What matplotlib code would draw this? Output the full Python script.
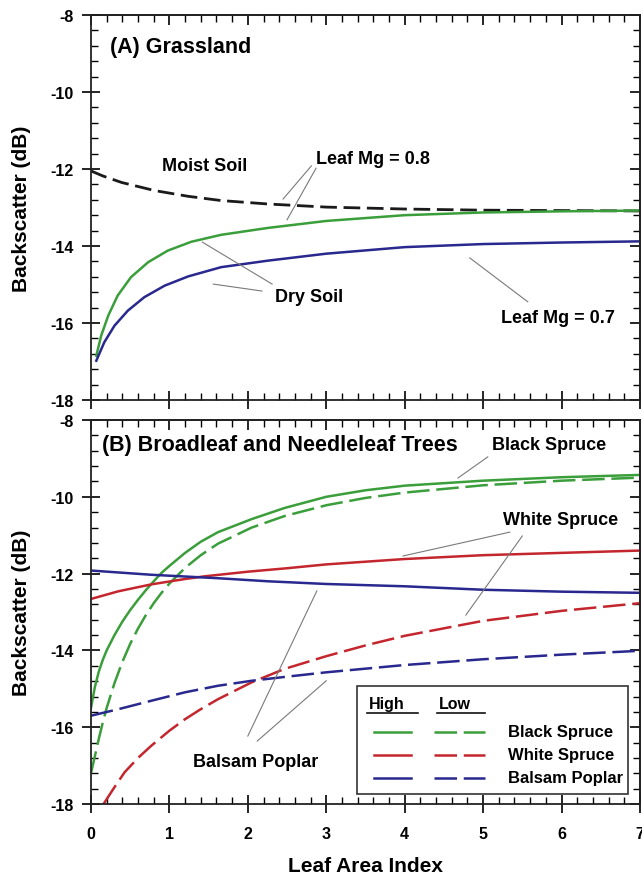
import matplotlib.pyplot as plt
from matplotlib.ticker import MultipleLocator
from matplotlib.patches import Rectangle

plt.rcParams['font.family'] = ['Liberation Sans', 'DejaVu Sans']
plt.rcParams['font.weight'] = 'bold'
plt.rcParams['axes.labelweight'] = 'bold'
plt.rcParams['axes.unicode_minus'] = False

GREEN = '#3a9e3a'
RED = '#c4262e'
NAVY = '#28288e'
GREY = '#7a7a7a'

# ---- (A) Grassland ----
moist_lai = [0, 0.15, 0.39, 0.81, 1.24, 1.66, 2.26, 3, 4, 5, 6, 7]
moist_db = [-12.05, -12.18, -12.35, -12.56, -12.71, -12.82, -12.91, -12.99,
            -13.04, -13.07, -13.08, -13.09]

mg08_lai = [0.068, 0.13, 0.22, 0.34, 0.51, 0.73, 0.98, 1.28, 1.66, 2.26, 3, 4, 5, 6, 7]
mg08_db = [-16.85, -16.33, -15.81, -15.29, -14.81, -14.42, -14.12, -13.89,
           -13.71, -13.53, -13.35, -13.2, -13.13, -13.1, -13.08]

mg07_lai = [0.068, 0.17, 0.30, 0.47, 0.68, 0.94, 1.24, 1.66, 2.26, 3, 4, 5, 6, 7]
mg07_db = [-16.98, -16.5, -16.07, -15.68, -15.33, -15.03, -14.79, -14.55,
           -14.38, -14.2, -14.03, -13.95, -13.91, -13.88]

# ---- (B) Broadleaf and needleleaf trees ----
bs_high_lai = [0, 0.05, 0.1, 0.15, 0.2, 0.3, 0.4, 0.5, 0.6, 0.7, 0.8, 0.9, 1.0,
               1.2, 1.4, 1.62, 2.05, 2.47, 3, 3.5, 4, 5, 6, 7]
bs_high_db = [-15.5, -14.95, -14.55, -14.25, -14.0, -13.6, -13.25, -12.95,
              -12.68, -12.43, -12.2, -11.98, -11.8, -11.46, -11.17, -10.92,
              -10.58, -10.29, -10.0, -9.83, -9.71, -9.58, -9.49, -9.43]

bs_low_lai = [0, 0.05, 0.1, 0.15, 0.2, 0.3, 0.4, 0.5, 0.6, 0.7, 0.8, 0.9, 1.0,
              1.2, 1.4, 1.62, 2.05, 2.47, 3, 3.5, 4, 5, 6, 7]
bs_low_db = [-17.2, -16.75, -16.3, -15.88, -15.5, -14.85, -14.3, -13.83,
             -13.43, -13.08, -12.77, -12.5, -12.26, -11.85, -11.52, -11.22,
             -10.8, -10.5, -10.22, -10.03, -9.89, -9.7, -9.58, -9.5]

ws_high_lai = [0, 0.35, 0.77, 1.2, 1.45, 2.0, 2.5, 3, 4, 5, 6, 7]
ws_high_db = [-12.66, -12.46, -12.28, -12.14, -12.07, -11.95, -11.86, -11.76,
              -11.62, -11.52, -11.46, -11.4]

ws_low_lai = [0.16, 0.3, 0.43, 0.6, 0.77, 1.0, 1.2, 1.4, 1.62, 2.05, 2.47, 3,
              3.5, 4, 5, 6, 7]
ws_low_db = [-18.0, -17.56, -17.17, -16.8, -16.48, -16.09, -15.79, -15.53,
             -15.27, -14.83, -14.48, -14.15, -13.87, -13.62, -13.23, -12.97, -12.77]

bp_high_lai = [0, 0.77, 1.62, 2.26, 3, 4, 5, 6, 7]
bp_high_db = [-11.92, -12.03, -12.12, -12.2, -12.27, -12.33, -12.42, -12.47, -12.5]

bp_low_lai = [0, 0.35, 0.77, 1.2, 1.62, 2.05, 2.47, 3, 4, 5, 6, 7]
bp_low_db = [-15.7, -15.53, -15.31, -15.09, -14.92, -14.79, -14.69, -14.57,
             -14.38, -14.23, -14.11, -14.01]

species = ['Black Spruce', 'White Spruce', 'Balsam Poplar']
species_colors = [GREEN, RED, NAVY]

LW = 1.8
DASH = (9, 2.7)


def style_axis(ax):
    ax.set_xlim(0, 7)
    ax.set_ylim(-18, -8)
    ax.xaxis.set_major_locator(MultipleLocator(1))
    ax.xaxis.set_minor_locator(MultipleLocator(0.2))
    ax.yaxis.set_major_locator(MultipleLocator(2))
    ax.yaxis.set_minor_locator(MultipleLocator(0.4))
    ax.tick_params(which='major', direction='inout', length=13, width=1.2,
                   labelsize=11.5, top=False, right=False)
    ax.tick_params(which='minor', direction='in', length=5, width=1,
                   top=False, right=False)
    ax.tick_params(axis='y', pad=6)
    ax.tick_params(axis='x', pad=9)
    for lbl in ax.get_xticklabels() + ax.get_yticklabels():
        lbl.set_fontweight('bold')
    for s in ax.spines.values():
        s.set_linewidth(1.3)
        s.set_color('#222222')

    # inward-only ticks along the top and right edges
    top = ax.secondary_xaxis('top')
    top.xaxis.set_major_locator(MultipleLocator(1))
    top.xaxis.set_minor_locator(MultipleLocator(0.2))
    top.tick_params(which='major', direction='in', length=7, width=1.2, labeltop=False)
    top.tick_params(which='minor', direction='in', length=5, width=1)
    right = ax.secondary_yaxis('right')
    right.yaxis.set_major_locator(MultipleLocator(2))
    right.yaxis.set_minor_locator(MultipleLocator(0.4))
    right.tick_params(which='major', direction='in', length=7, width=1.2, labelright=False)
    right.tick_params(which='minor', direction='in', length=5, width=1)
    for sec in (top, right):
        for s in sec.spines.values():
            s.set_linewidth(1.3)
            s.set_color('#222222')

    ax.set_ylabel('Backscatter (dB)', fontsize=15)
    ax.yaxis.set_label_coords(-0.126, 0.5)
    ax.yaxis.label.set_va('center')


def leader(ax, lines):
    for (x0, y0), (x1, y1) in lines:
        ax.plot([x0, x1], [y0, y1], color=GREY, lw=0.8)


fig = plt.figure(figsize=(6.42, 8.78), dpi=100)
ax_a = fig.add_axes([0.1417, 0.5433, 0.8551, 0.4385])
ax_b = fig.add_axes([0.1417, 0.0831, 0.8551, 0.4374])

# panel A
ax_a.plot(moist_lai, moist_db, color='#1a1a1a', lw=2.0, dashes=(6, 2.4))
ax_a.plot(mg08_lai, mg08_db, color=GREEN, lw=LW)
ax_a.plot(mg07_lai, mg07_db, color=NAVY, lw=LW)
style_axis(ax_a)
ax_a.tick_params(axis='x', labelbottom=False)

ax_a.text(0.24, -8.83, '(A) Grassland', fontsize=15.5, va='center')
ax_a.text(1.45, -11.9, 'Moist Soil', fontsize=13, ha='center', va='center')
ax_a.text(2.87, -11.74, 'Leaf Mg = 0.8', fontsize=13, va='center')
ax_a.text(2.78, -15.32, 'Dry Soil', fontsize=13, ha='center', va='center')
ax_a.text(5.95, -15.87, 'Leaf Mg = 0.7', fontsize=13, ha='center', va='center')
leader(ax_a, [((2.81, -11.92), (2.45, -12.78)),
              ((2.87, -11.98), (2.50, -13.32)),
              ((2.31, -14.99), (1.42, -13.9)),
              ((2.18, -15.17), (1.56, -14.99)),
              ((5.57, -15.45), (4.83, -14.31))])

# panel B
ax_b.plot(bs_high_lai, bs_high_db, color=GREEN, lw=LW)
ax_b.plot(bs_low_lai, bs_low_db, color=GREEN, lw=LW, dashes=DASH)
ax_b.plot(ws_high_lai, ws_high_db, color=RED, lw=LW)
ax_b.plot(ws_low_lai, ws_low_db, color=RED, lw=LW, dashes=DASH)
ax_b.plot(bp_high_lai, bp_high_db, color=NAVY, lw=LW)
ax_b.plot(bp_low_lai, bp_low_db, color=NAVY, lw=LW, dashes=DASH)
style_axis(ax_b)

ax_b.text(0.14, -8.65, '(B) Broadleaf and Needleleaf Trees', fontsize=15.5, va='center')
ax_b.text(5.84, -8.65, 'Black Spruce', fontsize=13, ha='center', va='center')
ax_b.text(5.99, -10.6, 'White Spruce', fontsize=13, ha='center', va='center')
ax_b.text(2.1, -16.88, 'Balsam Poplar', fontsize=13, ha='center', va='center')
leader(ax_b, [((5.06, -8.96), (4.68, -9.51)),
              ((5.34, -10.92), (3.98, -11.54)),
              ((5.5, -11.02), (4.78, -13.08)),
              ((2.0, -16.23), (2.88, -12.45)),
              ((2.12, -16.36), (3.0, -14.79))])

ax_b.set_xlabel('Leaf Area Index', fontsize=15)
ax_b.xaxis.set_label_coords(0.5, -0.161)
ax_b.xaxis.label.set_va('center')

# hand-built key: solid = high, dashed = low
tr = ax_b.transAxes
ax_b.add_patch(Rectangle((0.485, 0.026), 0.494, 0.282, transform=tr,
                         facecolor='white', edgecolor='#333333', lw=1.2, zorder=5))
for label, x0, x1 in [('High', 0.506, 0.596), ('Low', 0.633, 0.718)]:
    ax_b.text(x0, 0.262, label, fontsize=11.5, va='center', transform=tr, zorder=6)
    ax_b.plot([x0 - 0.003, x1], [0.238, 0.238], color='#111111', lw=1.2,
              transform=tr, zorder=6)
for i, (name, col) in enumerate(zip(species, species_colors)):
    y = 0.188 - 0.06 * i
    ax_b.plot([0.515, 0.583], [y, y], color=col, lw=LW, transform=tr, zorder=6)
    ax_b.plot([0.624, 0.718], [y, y], color=col, lw=LW, dashes=DASH,
              transform=tr, zorder=6)
    ax_b.text(0.760, y, name, fontsize=12, va='center', transform=tr, zorder=6)

fig.savefig('out.png', dpi=100)
